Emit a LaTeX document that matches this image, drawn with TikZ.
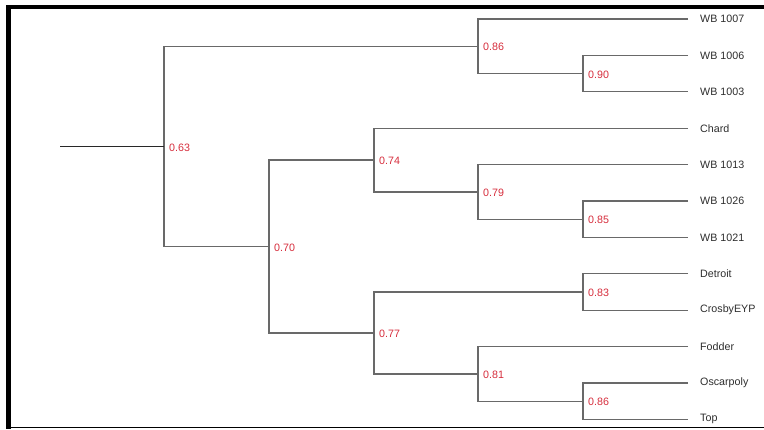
\documentclass[tikz,border=0pt]{standalone}
\usepackage{fontspec}
\setmainfont{Liberation Sans}
\definecolor{branch}{RGB}{105,105,105}
\definecolor{supp}{RGB}{214,45,60}
\definecolor{leaftext}{RGB}{45,45,45}
\definecolor{rootline}{RGB}{40,40,40}
\tikzset{
  edge/.style={draw=branch, line width=1.2pt},
  leaflab/.style={anchor=west, inner sep=0pt, text=leaftext, font=\fontsize{10.7}{12}\selectfont},
  supplab/.style={anchor=west, inner sep=0pt, text=supp, font=\fontsize{10.7}{12}\selectfont},
}
\begin{document}
\begin{tikzpicture}[x={(1pt,0)}, y={(0,-1pt)}]
\useasboundingbox (0,0) rectangle (764,429);
% frame
\fill[black] (7,4.5) rectangle (764,8.5);
\fill[black] (6,4.5) rectangle (11,429);
\fill[black] (6,426.8) rectangle (764,428.4);
% leaf tips
\coordinate (t1) at (688,19);
\coordinate (t2) at (688,55.4);
\coordinate (t3) at (688,91.8);
\coordinate (t4) at (688,128.2);
\coordinate (t5) at (688,164.6);
\coordinate (t6) at (688,201);
\coordinate (t7) at (688,237.4);
\coordinate (t8) at (688,273.8);
\coordinate (t9) at (688,310.2);
\coordinate (t10) at (688,346.6);
\coordinate (t11) at (688,383);
\coordinate (t12) at (688,419.4);
% leaf labels
\node[leaflab] (l1) at (700,19) {WB 1007};
\node[leaflab] (l2) at (700,55.4) {WB 1006};
\node[leaflab] (l3) at (700,91.8) {WB 1003};
\node[leaflab] (l4) at (700,128.2) {Chard};
\node[leaflab] (l5) at (700,164.6) {WB 1013};
\node[leaflab] (l6) at (700,201) {WB 1026};
\node[leaflab] (l7) at (700,237.4) {WB 1021};
\node[leaflab] (l8) at (700,273.8) {Detroit};
\node[leaflab] (l9) at (700,310.2) {CrosbyEYP};
\node[leaflab] (l10) at (700,346.6) {Fodder};
\node[leaflab] (l11) at (700,383) {Oscarpoly};
\node[leaflab] (l12) at (700,419.4) {Top};
% internal nodes
\coordinate (n90) at (583,73.6);
\coordinate (n86a) at (478,46.3);
\coordinate (n85) at (583,219.2);
\coordinate (n79) at (478,191.9);
\coordinate (n74) at (374,160.05);
\coordinate (n83) at (583,292);
\coordinate (n86b) at (583,401.2);
\coordinate (n81) at (478,373.9);
\coordinate (n77) at (374,332.95);
\coordinate (n70) at (269,246.5);
\coordinate (n63) at (164,146.4);
\coordinate (root) at (60,146.4);
% branches
\draw[edge] (t2) -| (n90) |- (t3);
\draw[edge] (t1) -| (n86a) |- (n90);
\draw[edge] (t6) -| (n85) |- (t7);
\draw[edge] (t5) -| (n79) |- (n85);
\draw[edge] (t4) -| (n74) |- (n79);
\draw[edge] (t8) -| (n83) |- (t9);
\draw[edge] (t11) -| (n86b) |- (t12);
\draw[edge] (t10) -| (n81) |- (n86b);
\draw[edge] (n83) -| (n77) |- (n81);
\draw[edge] (n74) -| (n70) |- (n77);
\draw[edge] (n86a) -| (n63) |- (n70);
\draw[edge, draw=rootline] (root) -- (n63);
% support values
\node[supplab] (s90) at ([xshift=5pt,yshift=-1pt]n90) {0.90};
\node[supplab] (s86a) at ([xshift=5pt,yshift=-1pt]n86a) {0.86};
\node[supplab] (s85) at ([xshift=5pt,yshift=-1pt]n85) {0.85};
\node[supplab] (s79) at ([xshift=5pt,yshift=-1pt]n79) {0.79};
\node[supplab] (s74) at ([xshift=5pt,yshift=-1pt]n74) {0.74};
\node[supplab] (s83) at ([xshift=5pt,yshift=-1pt]n83) {0.83};
\node[supplab] (s86b) at ([xshift=5pt,yshift=-1pt]n86b) {0.86};
\node[supplab] (s81) at ([xshift=5pt,yshift=-1pt]n81) {0.81};
\node[supplab] (s77) at ([xshift=5pt,yshift=-1pt]n77) {0.77};
\node[supplab] (s70) at ([xshift=5pt,yshift=-1pt]n70) {0.70};
\node[supplab] (s63) at ([xshift=5pt,yshift=-1pt]n63) {0.63};
\end{tikzpicture}
\end{document}
